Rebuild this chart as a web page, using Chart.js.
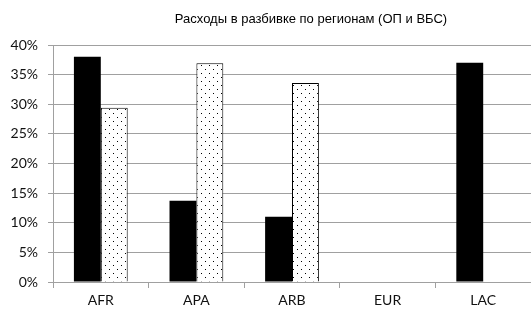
<!DOCTYPE html>
<html>
<head>
<meta charset="utf-8">
<script src="https://cdn.jsdelivr.net/npm/chart.js@4"></script>
<style>
  html, body { margin: 0; padding: 0; background: #fff; }
  #wrap { width: 531px; height: 311px; }
</style>
</head>
<body>
<div id="wrap"><canvas id="regionChart" width="531" height="311"></canvas></div>
<script>
const chartTitle = 'Расходы в разбивке по регионам (ОП и ВБС)';
const regions = ['AFR', 'APA', 'ARB', 'EUR', 'LAC'];
const seriesSolid = [38.0, 13.7, 11.0, 0, 37.0];
const seriesDotted = [29.4, 36.9, 33.6, 0, 0];
const yTicks = [0, 5, 10, 15, 20, 25, 30, 35, 40];

const axisFont = { family: 'Lato, "Open Sans", sans-serif', size: 14 };
const gridColor = '#a0a0a0';

// white fill with small staggered black dots
function makeDots() {
    const c = document.createElement('canvas');
    c.width = 8;
    c.height = 8;
    const g = c.getContext('2d');
    g.fillStyle = '#fff';
    g.fillRect(0, 0, 8, 8);
    g.fillStyle = '#000';
    g.fillRect(1, 1, 1, 1);
    g.fillRect(5, 5, 1, 1);
    return g.createPattern(c, 'repeat');
}

// title sits a bit right of the plot centre, like in the original
const titlePlugin = {
    id: 'offsetTitle',
    afterDraw(chart) {
        const ctx = chart.ctx;
        ctx.save();
        ctx.font = '13px "Liberation Sans", Arial, sans-serif';
        ctx.fillStyle = '#000';
        ctx.textAlign = 'center';
        ctx.textBaseline = 'middle';
        ctx.fillText(chartTitle, 311, 19);
        ctx.restore();
    }
};

new Chart(document.getElementById('regionChart'), {
    type: 'bar',
    data: {
        labels: regions,
        datasets: [
            {
                label: 'solid',
                data: seriesSolid,
                backgroundColor: '#000',
                borderColor: '#000',
                borderWidth: 0,
                barPercentage: 1,
                categoryPercentage: 0.5625
            },
            {
                label: 'dotted',
                data: seriesDotted,
                backgroundColor: makeDots(),
                borderColor: '#000',
                borderWidth: 1,
                barPercentage: 1,
                categoryPercentage: 0.5625
            }
        ]
    },
    options: {
        responsive: false,
        animation: false,
        layout: { padding: { top: 45, right: 0, left: 0, bottom: 0 } },
        plugins: {
            legend: { display: false },
            title: { display: false },
            tooltip: { enabled: false }
        },
        scales: {
            x: {
                grid: { drawOnChartArea: false, drawTicks: true, tickLength: 6, color: gridColor },
                border: { display: true, color: gridColor },
                ticks: { color: '#111', font: axisFont, padding: 4 },
                afterFit(scale) { scale.height = 29; }
            },
            y: {
                min: yTicks[0],
                max: yTicks[yTicks.length - 1],
                afterBuildTicks(scale) { scale.ticks = yTicks.map(v => ({ value: v })); },
                grid: { color: gridColor, tickLength: 5 },
                border: { display: true, color: gridColor },
                ticks: { color: '#111', font: axisFont, padding: 10, callback: v => v + '%' },
                afterFit(scale) { scale.width = 53; }
            }
        }
    },
    plugins: [titlePlugin]
});
</script>
</body>
</html>
